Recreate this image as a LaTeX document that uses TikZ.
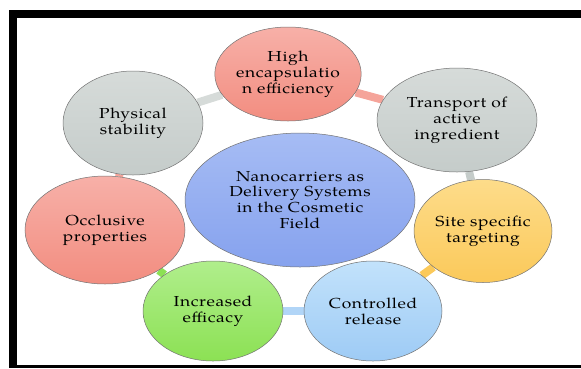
\documentclass[tikz,border=0pt]{standalone}
\usepackage{fontspec}
\setmainfont{texgyrepagella}[Extension=.otf,UprightFont=*-regular,FakeStretch=1.2,LetterSpace=4]
\usetikzlibrary{shapes.geometric,backgrounds}

\definecolor{coreTop}{HTML}{A6BCF4}
\definecolor{coreBot}{HTML}{86A2EE}
\definecolor{salTop}{HTML}{F7B0A8}
\definecolor{salBot}{HTML}{F28D80}
\definecolor{greyTop}{HTML}{D6DBD9}
\definecolor{greyBot}{HTML}{C5CCCA}
\definecolor{yelTop}{HTML}{FDDC8A}
\definecolor{yelBot}{HTML}{FBC95A}
\definecolor{grnTop}{HTML}{B0EE8C}
\definecolor{grnBot}{HTML}{8CE154}
\definecolor{bluTop}{HTML}{C2E2FB}
\definecolor{bluBot}{HTML}{9ECBF5}

\begin{document}
\begin{tikzpicture}[x=1pt,y=-1pt,
  bubble/.style={ellipse,draw=black!55,line width=0.5pt,inner sep=0pt,align=center,
    font=\fontsize{14.5}{15.8}\selectfont},
  link/.style={line width=8pt}]
\useasboundingbox (0,0) rectangle (581,368);

\fill (9,10) rectangle (581,18);
\fill (9,10) rectangle (16.5,368);
\fill (16,365) rectangle (581,368);

\node[bubble,minimum width=230,minimum height=134,top color=coreTop,bottom color=coreBot] (core) at (300,200)
  {Nanocarriers as\\Delivery Systems\\in the Cosmetic\\Field};

\node[bubble,minimum width=134,minimum height=94,top color=salTop,bottom color=salBot] (encap) at (288,74)
  {High\\encapsulatio\\n efficiency};
\node[bubble,minimum width=160,minimum height=104,top color=greyTop,bottom color=greyBot] (transp) at (457,120)
  {Transport of\\active\\ingredient};
\node[bubble,minimum width=138,minimum height=103,top color=yelTop,bottom color=yelBot] (target) at (483,231)
  {Site specific\\targeting};
\node[bubble,minimum width=138,minimum height=100,top color=bluTop,bottom color=bluBot] (release) at (373,311)
  {Controlled\\release};
\node[bubble,minimum width=140,minimum height=100,top color=grnTop,bottom color=grnBot] (efficacy) at (213,311)
  {Increased\\efficacy};
\node[bubble,minimum width=160,minimum height=108,top color=salTop,bottom color=salBot] (occl) at (105,230)
  {Occlusive\\properties};
\node[bubble,minimum width=140,minimum height=104,top color=greyTop,bottom color=greyBot] (stab) at (133,123)
  {Physical\\stability};

\begin{scope}[on background layer]
\draw[link,greyTop] (stab) -- (encap);
\draw[link,salBot!80] (encap) -- (transp);
\draw[link,greyBot] (transp) -- (target);
\draw[link,yelBot] (target) -- (release);
\draw[link,bluBot!80] (release) -- (efficacy);
\draw[link,grnBot] (efficacy) -- (occl);
\draw[link,salBot!80] (occl) -- (stab);
\end{scope}

\end{tikzpicture}
\end{document}
